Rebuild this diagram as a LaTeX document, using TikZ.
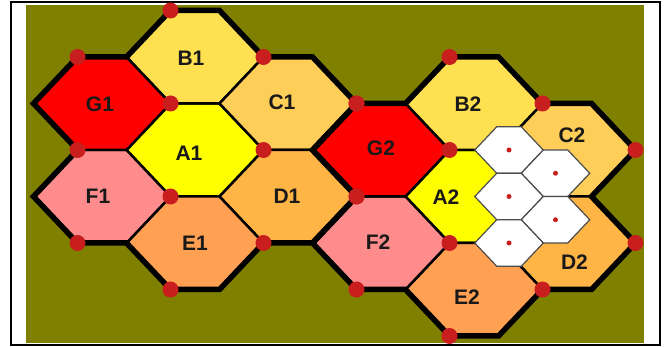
\documentclass[tikz,border=0pt]{standalone}
\usepackage{fontspec}
\setmainfont{Liberation Sans}
\definecolor{olivebg}{RGB}{128,128,0}
\definecolor{cA}{RGB}{255,255,0}
\definecolor{cB}{RGB}{255,224,80}
\definecolor{cC}{RGB}{255,206,88}
\definecolor{cD}{RGB}{255,180,70}
\definecolor{cE}{RGB}{255,160,82}
\definecolor{cF}{RGB}{255,140,140}
\definecolor{cG}{RGB}{255,0,0}
\definecolor{dotred}{RGB}{200,30,30}
% hexagon with centre (#1,#2), scale #3, path options #4
\newcommand{\hexat}[4]{\path[#4] (#1+#3*68.5,#2) -- (#1+#3*24.5,#2-#3*46.5) -- (#1-#3*24.5,#2-#3*46.5) -- (#1-#3*68.5,#2) -- (#1-#3*24.5,#2+#3*46.5) -- (#1+#3*24.5,#2+#3*46.5) -- cycle;}
% a seven-cell cluster around (#1,#2)
\newcommand{\cellcluster}[2]{%
  \hexat{#1}{#2}{1}{cellbox,fill=cA}
  \hexat{#1}{#2-93}{1}{cellbox,fill=cB}
  \hexat{#1+93}{#2-46.5}{1}{cellbox,fill=cC}
  \hexat{#1+93}{#2+46.5}{1}{cellbox,fill=cD}
  \hexat{#1}{#2+93}{1}{cellbox,fill=cE}
  \hexat{#1-93}{#2+46.5}{1}{cellbox,fill=cF}
  \hexat{#1-93}{#2-46.5}{1}{cellbox,fill=cG}}
\newcommand{\clusterline}[2]{\draw[outerline] (#1-24.5,#2-139.5) -- (#1+24.5,#2-139.5) -- (#1+68.5,#2-93) -- (#1+117.5,#2-93) -- (#1+161.5,#2-46.5) -- (#1+117.5,#2) -- (#1+161.5,#2+46.5) -- (#1+117.5,#2+93) -- (#1+68.5,#2+93) -- (#1+24.5,#2+139.5) -- (#1-24.5,#2+139.5) -- (#1-68.5,#2+93) -- (#1-117.5,#2+93) -- (#1-161.5,#2+46.5) -- (#1-117.5,#2) -- (#1-161.5,#2-46.5) -- (#1-117.5,#2-93) -- (#1-68.5,#2-93) -- cycle;}
\newcommand{\clusterdots}[2]{\foreach \dx/\dy in {-24.5/-139.5, 68.5/-93, 161.5/-46.5, 161.5/46.5, 68.5/93, -24.5/139.5, -117.5/93, -117.5/0, -117.5/-93, -24.5/-46.5, 68.5/0, -24.5/46.5} {\fill[dotred] (#1+\dx,#2+\dy) circle[radius=8pt];}}
\begin{document}
\begin{tikzpicture}[x=1pt,y=-1pt,
  cellbox/.style={draw=black,line width=2.5pt,line join=miter},
  outerline/.style={draw=black,line width=5.5pt,line join=miter},
  smallcell/.style={fill=white,draw=black!70,line width=1.2pt},
  lbl/.style={font=\fontsize{21}{21}\selectfont\bfseries,text=black!90,inner sep=0pt}]
\fill[white] (0,0) rectangle (667,347);
\useasboundingbox (0,0) rectangle (667,347);
\draw[black,line width=2pt] (11,2) rectangle (659.5,345.5);
\fill[olivebg] (26,5) rectangle (644,343.5);
% cells
\cellcluster{195}{150}
\cellcluster{474}{196.5}
% cluster borders
\clusterline{195}{150}
\clusterline{474}{196.5}
% sector dots
\clusterdots{195}{150}
\clusterdots{474}{196.5}
% small cells
\foreach \cx/\cy in {509/150, 555.5/173.25, 509/196.5, 555.5/219.75, 509/243} {
  \hexat{\cx}{\cy}{0.5}{smallcell}
  \fill[dotred] (\cx,\cy) circle[radius=2.5pt];
}
% labels
\node[lbl] (g1) at (100,104) {G1};
\node[lbl] (b1) at (191,58) {B1};
\node[lbl] (c1) at (282,102) {C1};
\node[lbl] (a1) at (189,153) {A1};
\node[lbl] (f1) at (98,196) {F1};
\node[lbl] (e1) at (195,243) {E1};
\node[lbl] (d1) at (287,196) {D1};
\node[lbl] (g2) at (381,148) {G2};
\node[lbl] (b2) at (468,104) {B2};
\node[lbl] (c2) at (572,135) {C2};
\node[lbl] (a2) at (446,197.5) {A2};
\node[lbl] (f2) at (378,242.5) {F2};
\node[lbl] (d2) at (574.5,262.5) {D2};
\node[lbl] (e2) at (467,297.5) {E2};
\end{tikzpicture}
\end{document}
